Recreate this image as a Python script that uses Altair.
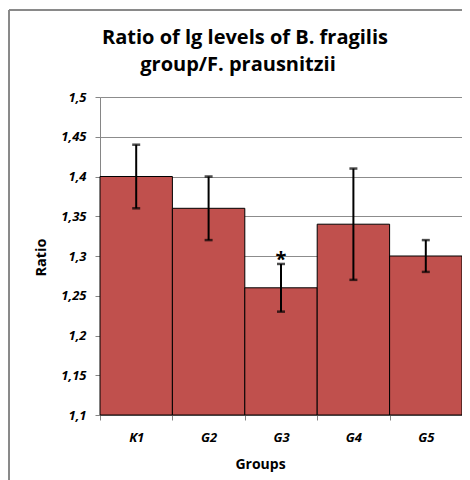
import altair as alt
import pandas as pd

groups = ["K1", "G2", "G3", "G4", "G5"]
ratios = [1.40, 1.36, 1.26, 1.34, 1.30]
err_low = [1.36, 1.32, 1.23, 1.27, 1.28]
err_high = [1.44, 1.40, 1.29, 1.41, 1.32]
marks = ["", "", "*", "", ""]
title_lines = ["Ratio of lg levels of B. fragilis", "group/F. prausnitzii"]
y_ticks = [1.1, 1.15, 1.2, 1.25, 1.3, 1.35, 1.4, 1.45, 1.5]

df = pd.DataFrame({"group": groups, "ratio": ratios, "lo": err_low, "hi": err_high, "mark": marks})

FONT = "Open Sans"
AXC = "#868686"

xaxis = alt.Axis(labelAngle=0, labelFont=FONT, labelFontSize=13, labelFontWeight="bold",
                 labelFontStyle="italic", labelColor="black", labelPadding=21,
                 labelBaseline="alphabetic",
                 titleFont=FONT, titleFontSize=14, titleFontWeight="bold", titleColor="black",
                 titleX=160, titleY=53, titleBaseline="alphabetic", titleAnchor="start",
                 titleAlign="center",
                 tickBand="extent", tickColor=AXC, tickSize=5, domainColor=AXC, grid=False)
xscale = alt.Scale(domain=groups, paddingInner=0, paddingOuter=0)

yscale = alt.Scale(domain=[1.1, 1.5], zero=False, nice=False)
yaxis = alt.Axis(values=y_ticks,
                 labelExpr="replace(format(datum.value, '.2~f'), '.', ',')",
                 labelOverlap=False,
                 labelFont=FONT, labelFontSize=13, labelFontWeight="bold", labelFontStyle="italic",
                 labelColor="black", labelPadding=9, tickColor=AXC, tickSize=5,
                 domainColor=AXC, gridColor="#8c8c8c", grid=True,
                 titleFont=FONT, titleFontSize=14.5, titleFontWeight="bold", titleColor="black",
                 titleX=-55, titleY=160, titleAngle=-90, titleBaseline="alphabetic",
                 titleAlign="center")

X = alt.X("group:N", sort=groups, scale=xscale, axis=xaxis, title="Groups")

def Y(field):
    return alt.Y(field, type="quantitative", scale=yscale, axis=yaxis, title="Ratio")

base = alt.Chart(df)

frame = base.mark_rect(fill=None, stroke=AXC, strokeWidth=1, clip=False).encode(
    x=alt.value(-91), x2=alt.value(380), y=alt.value(-87), y2=alt.value(400))

bars = base.mark_bar(color="#C0504D", stroke="black", strokeWidth=1).encode(
    x=X, y=Y("ratio"), y2=alt.datum(1.1))

rules = base.mark_rule(color="black", strokeWidth=2).encode(x=X, y=Y("lo"), y2="hi:Q")
cap_lo = base.mark_tick(color="black", thickness=2.5, size=8, orient="horizontal").encode(x=X, y=Y("lo"))
cap_hi = base.mark_tick(color="black", thickness=2.5, size=8, orient="horizontal").encode(x=X, y=Y("hi"))
star = base.mark_text(font=FONT, fontSize=20, fontWeight="bold", color="black", dy=6,
                      baseline="bottom").encode(x=X, y=Y("hi"), text="mark:N")

t1 = alt.Chart(pd.DataFrame({"t": [title_lines[0]]})).mark_text(
    font=FONT, fontSize=20, fontWeight="bold", color="black", align="center", baseline="alphabetic").encode(
    x=alt.value(145), y=alt.value(-53), text="t:N")
t2 = alt.Chart(pd.DataFrame({"t": [title_lines[1]]})).mark_text(
    font=FONT, fontSize=20, fontWeight="bold", color="black", align="center", baseline="alphabetic").encode(
    x=alt.value(138), y=alt.value(-26), text="t:N")

chart = alt.layer(frame, bars, rules, cap_lo, cap_hi, star, t1, t2).properties(
    width=362, height=318,
    padding={"left": 92, "top": 89, "right": 0, "bottom": 65},
    autosize=alt.AutoSizeParams(type="none"),
).configure_view(stroke=None)

chart.save("out.html", embed_options={"renderer": "svg", "actions": False})
